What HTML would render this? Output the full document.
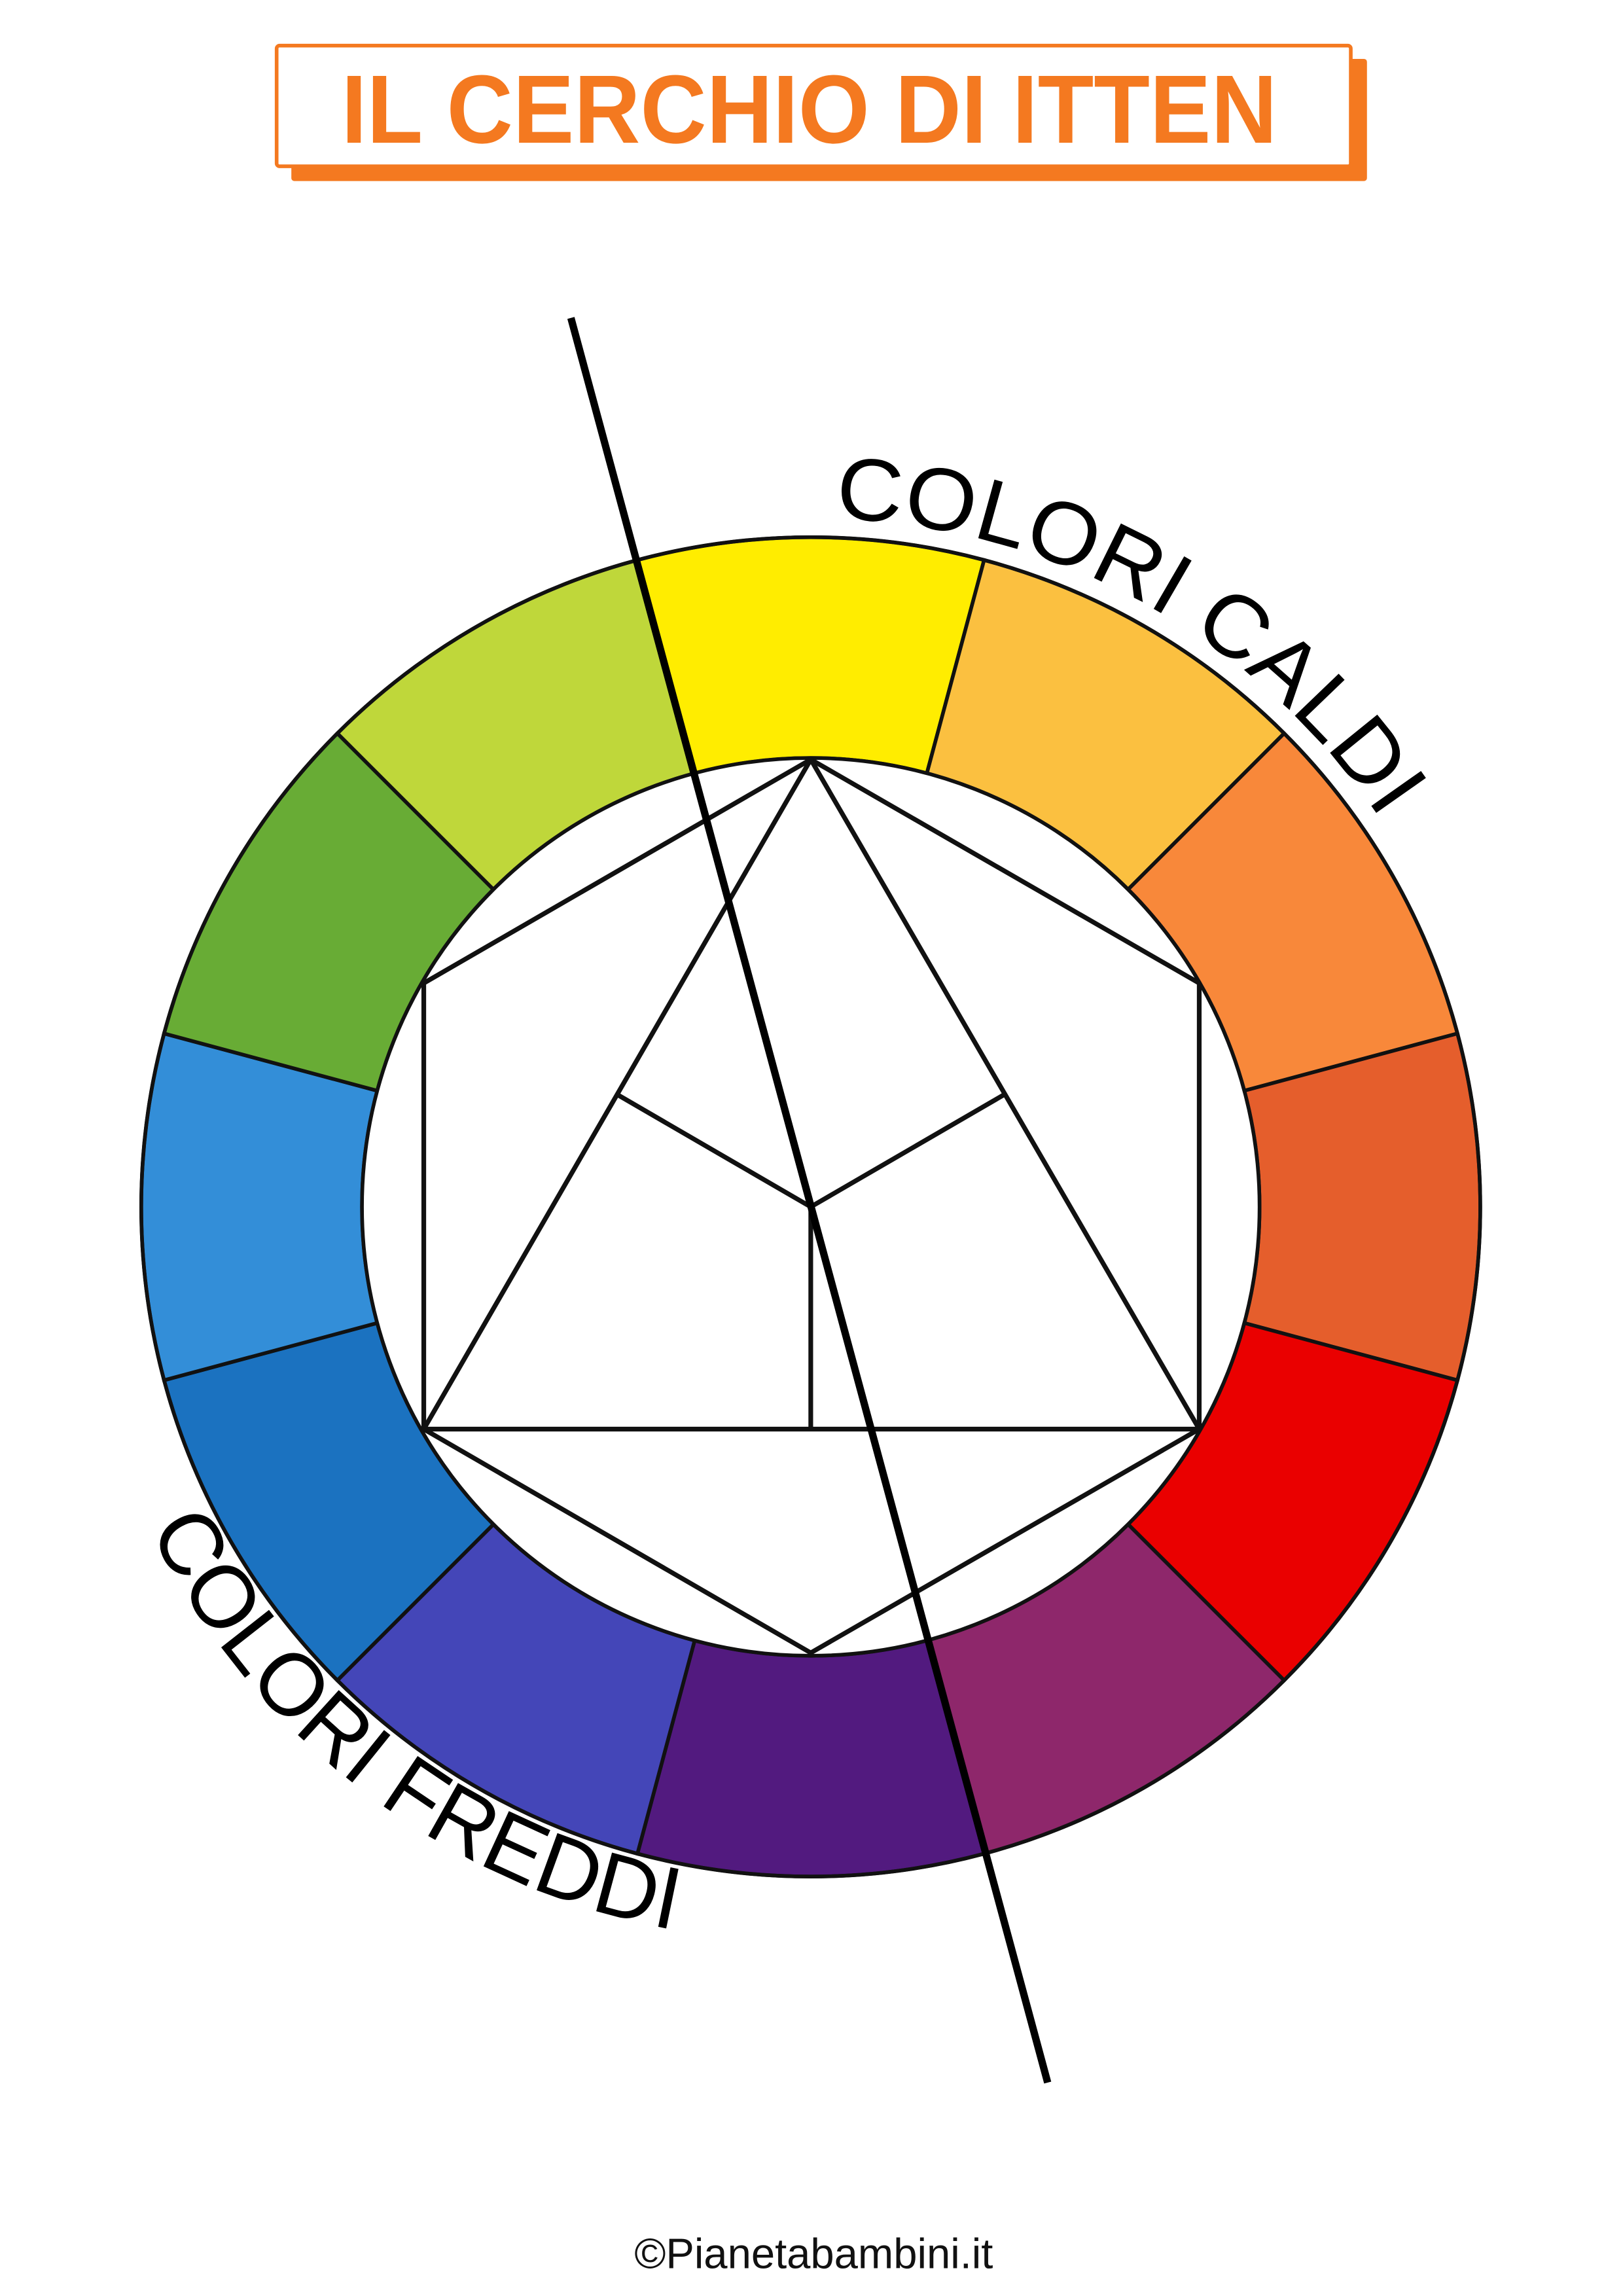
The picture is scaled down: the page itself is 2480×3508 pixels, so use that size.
<!DOCTYPE html>
<html><head><meta charset="utf-8"><style>
html,body{margin:0;padding:0;background:#fff;}
svg{display:block;}
</style></head><body>
<svg width="2480" height="3508" viewBox="0 0 1103 1560" preserveAspectRatio="none" xmlns="http://www.w3.org/2000/svg">
<rect width="1103" height="1560" fill="#fff"/>
<rect x="198" y="40" width="731" height="83" fill="#F47920" rx="2"/>
<rect x="188" y="31" width="730" height="82" fill="#fff" stroke="#F47920" stroke-width="2.5" rx="2"/>
<text x="550" y="97" text-anchor="middle" font-family="Liberation Sans, sans-serif" font-weight="bold" font-size="66" fill="#F47920" textLength="636" lengthAdjust="spacingAndGlyphs">IL CERCHIO DI ITTEN</text>
<g stroke="#111" stroke-width="2.5" stroke-linejoin="miter">
<path fill="#FFED00" d="M433.2,380.5 A455,455 0 0 1 668.8,380.5 L629.9,525.4 A305,305 0 0 0 472.1,525.4 Z"/>
<path fill="#FBC040" d="M668.8,380.5 A455,455 0 0 1 872.7,498.3 L766.7,604.3 A305,305 0 0 0 629.9,525.4 Z"/>
<path fill="#F8883A" d="M872.7,498.3 A455,455 0 0 1 990.5,702.2 L845.6,741.1 A305,305 0 0 0 766.7,604.3 Z"/>
<path fill="#E55E2C" d="M990.5,702.2 A455,455 0 0 1 990.5,937.8 L845.6,898.9 A305,305 0 0 0 845.6,741.1 Z"/>
<path fill="#EA0000" d="M990.5,937.8 A455,455 0 0 1 872.7,1141.7 L766.7,1035.7 A305,305 0 0 0 845.6,898.9 Z"/>
<path fill="#8E276B" d="M872.7,1141.7 A455,455 0 0 1 668.8,1259.5 L629.9,1114.6 A305,305 0 0 0 766.7,1035.7 Z"/>
<path fill="#521A7F" d="M668.8,1259.5 A455,455 0 0 1 433.2,1259.5 L472.1,1114.6 A305,305 0 0 0 629.9,1114.6 Z"/>
<path fill="#4446B8" d="M433.2,1259.5 A455,455 0 0 1 229.3,1141.7 L335.3,1035.7 A305,305 0 0 0 472.1,1114.6 Z"/>
<path fill="#1B72C0" d="M229.3,1141.7 A455,455 0 0 1 111.5,937.8 L256.4,898.9 A305,305 0 0 0 335.3,1035.7 Z"/>
<path fill="#338ED8" d="M111.5,937.8 A455,455 0 0 1 111.5,702.2 L256.4,741.1 A305,305 0 0 0 256.4,898.9 Z"/>
<path fill="#68AC35" d="M111.5,702.2 A455,455 0 0 1 229.3,498.3 L335.3,604.3 A305,305 0 0 0 256.4,741.1 Z"/>
<path fill="#BFD73A" d="M229.3,498.3 A455,455 0 0 1 433.2,380.5 L472.1,525.4 A305,305 0 0 0 335.3,604.3 Z"/>
</g>
<circle cx="551" cy="820" r="455" fill="none" stroke="#111" stroke-width="2.5"/>
<circle cx="551" cy="820" r="305" fill="#fff" stroke="#111" stroke-width="2.5"/>
<g fill="none" stroke="#111" stroke-width="3.2" stroke-linejoin="round">
<polygon points="551,516 815,668 815,971 551,1123 288,971 288,668"/>
<polygon points="551,516 815,971 288,971"/>
<line x1="551" y1="820" x2="551" y2="971"/>
<line x1="551" y1="820" x2="420" y2="744"/>
<line x1="551" y1="820" x2="682" y2="744"/>
</g>
<line x1="388" y1="216" x2="712" y2="1415" stroke="#000" stroke-width="5"/>
<defs>
<path id="pc" d="M567.3,352.3 A466,466 0 0 1 990.8,659.9"/>
<path id="pf" d="M101.6,1039.2 A500,500 0 0 0 551,1320"/>
</defs>
<text font-family="Liberation Sans, sans-serif" font-size="60" fill="#000"><textPath href="#pc" textLength="440" lengthAdjust="spacingAndGlyphs">COLORI CALDI</textPath></text>
<text font-family="Liberation Sans, sans-serif" font-size="60" fill="#000"><textPath href="#pf" textLength="465" lengthAdjust="spacingAndGlyphs">COLORI FREDDI</textPath></text>
<text x="553" y="1541" text-anchor="middle" font-family="Liberation Sans, sans-serif" font-size="29" fill="#111">©Pianetabambini.it</text>
</svg>
</body></html>
